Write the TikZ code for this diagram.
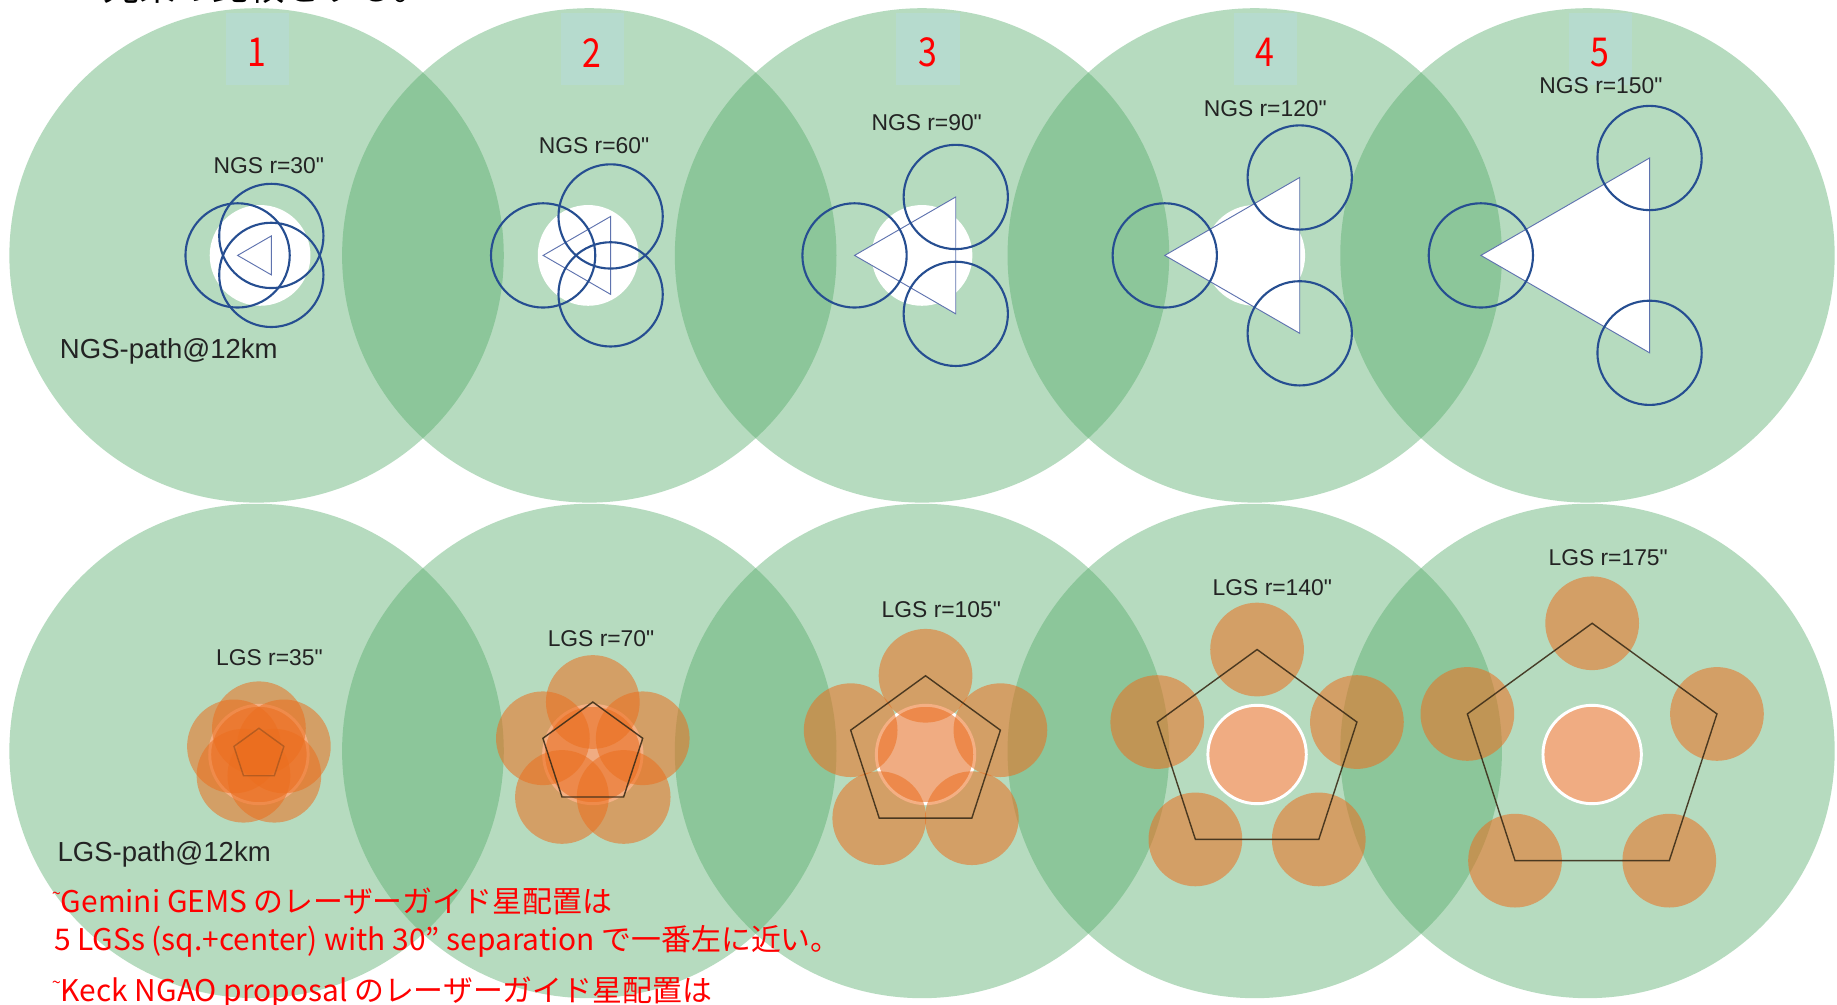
\documentclass[tikz,border=0pt]{standalone}
\usepackage{fontspec}
\setmainfont[Ligatures=TeXOff]{Liberation Sans}
\newfontfamily\jpfont{Noto Sans CJK JP}
\newfontfamily\jpnarrow[FakeStretch=0.85]{Noto Sans CJK JP}
\definecolor{pathgreen}{RGB}{82,171,104}
\definecolor{boxteal}{RGB}{182,219,206}
\definecolor{ngsblue}{RGB}{38,78,145}
\definecolor{triblue}{RGB}{95,115,175}
\definecolor{lgsorange}{RGB}{235,110,30}
\definecolor{centsalmon}{RGB}{240,172,130}
\definecolor{pentline}{RGB}{60,45,25}
\definecolor{labelgray}{RGB}{35,35,35}
\begin{document}
\begin{tikzpicture}[x=1pt,y=-1pt,
  pathfill/.style={fill=pathgreen, fill opacity=0.42},
  numbox/.style={fill=boxteal, minimum width=54pt, minimum height=61pt, inner sep=0pt},
  numtxt/.style={text=red, inner sep=0pt, font=\jpnarrow\fontsize{34}{34}\selectfont},
  lbl/.style={text=labelgray, inner sep=0pt, font=\fontsize{19.5}{20}\selectfont},
  pathlbl/.style={text=labelgray, inner sep=0pt, anchor=west, font=\fontsize{23.5}{24}\selectfont},
  ngsring/.style={draw=ngsblue, line width=1.8pt},
  ngstri/.style={draw=triblue, line width=0.8pt, fill=white},
  lgsdisk/.style={fill=lgsorange, fill opacity=0.55},
  lgscentre/.style={fill=centsalmon, draw=white, line width=2.5pt},
  pentaline/.style={draw=pentline, line width=1.2pt},
  note/.style={text=red, inner sep=0pt, anchor=base west, font=\jpfont\fontsize{25.5}{26}\selectfont},
  toptext/.style={text=black, inner sep=0pt, anchor=base west, font=\jpfont\fontsize{31}{31}\selectfont}
]
\useasboundingbox (0,0) rectangle (1568,857);
\clip (0,0) rectangle (1568,857);
\fill[white] (0,0) rectangle (1568,857);

% cut-off heading
\node[toptext] (heading) at (88,0.5) {光束の比較をする。};

% big path circles
\foreach \cx in {219,503,787,1071,1355} {
  \fill[pathfill] (\cx,218) circle[radius=211];
  \fill[pathfill] (\cx,641) circle[radius=211];
}

% number boxes
\foreach \i/\cx in {1/219.6,2/505.5,3/792,4/1080,5/1366} {
  \node[numbox] (box\i) at (\cx,42) {};
  \node[numtxt] (num\i) at (\cx,45) {\i};
}

% NGS panels
\foreach \i/\cx/\R/\lx/\ly/\lab in {1/222/19.2/229.5/141/30, 2/502/38.4/507/124/60, 3/787/57.6/791/105/90, 4/1071/76.8/1080/93/120, 5/1360/96/1366.5/73/150} {
  \begin{scope}[shift={(\cx,218)}]
    \fill[white] (0,0) circle[radius=43];
    \draw[ngstri] (180:\R) -- (60:\R) -- (-60:\R) -- cycle;
    \draw[ngsring] (180:\R) circle[radius=44.5];
    \draw[ngsring] (60:\R) circle[radius=44.5];
    \draw[ngsring] (-60:\R) circle[radius=44.5];
  \end{scope}
  \node[lbl] (ngs\i) at (\lx,\ly) {NGS r=\lab"};
}

% LGS panels
\foreach \i/\cx/\R/\lx/\ly/\lab/\po in {1/221/22.4/230/561/35/0.3, 2/506/44.8/513/545.5/70/0.9, 3/790/67.2/803.5/520.5/105/0.9, 4/1073/89.6/1086/501.5/140/0.9, 5/1359/112/1372.7/476/175/0.9} {
  \begin{scope}[shift={(\cx,644)}]
    \filldraw[lgscentre] (0,0) circle[radius=42];
    \foreach \a in {-90,-18,54,126,198} {
      \fill[lgsdisk] (\a:\R) circle[radius=40];
    }
    \draw[pentaline, draw opacity=\po] (-90:\R) -- (-18:\R) -- (54:\R) -- (126:\R) -- (198:\R) -- cycle;
  \end{scope}
  \node[lbl] (lgs\i) at (\lx,\ly) {LGS r=\lab"};
}

\node[pathlbl] (ngspath) at (51,300) {NGS-path@12km};
\node[pathlbl] (lgspath) at (49,729) {LGS-path@12km};

% red notes
\node[note] (gems) at (44,779) {\raisebox{0.45em}{\fontsize{14}{14}\selectfont\textasciitilde}Gemini GEMS のレーザーガイド星配置は};
\node[note] (gemsb) at (46,811) {5 LGSs (sq.+center) with 30” separation で一番左に近い。};
\node[note] (keck) at (44,855) {\raisebox{0.45em}{\fontsize{14}{14}\selectfont\textasciitilde}Keck NGAO proposal のレーザーガイド星配置は};
\end{tikzpicture}
\end{document}
